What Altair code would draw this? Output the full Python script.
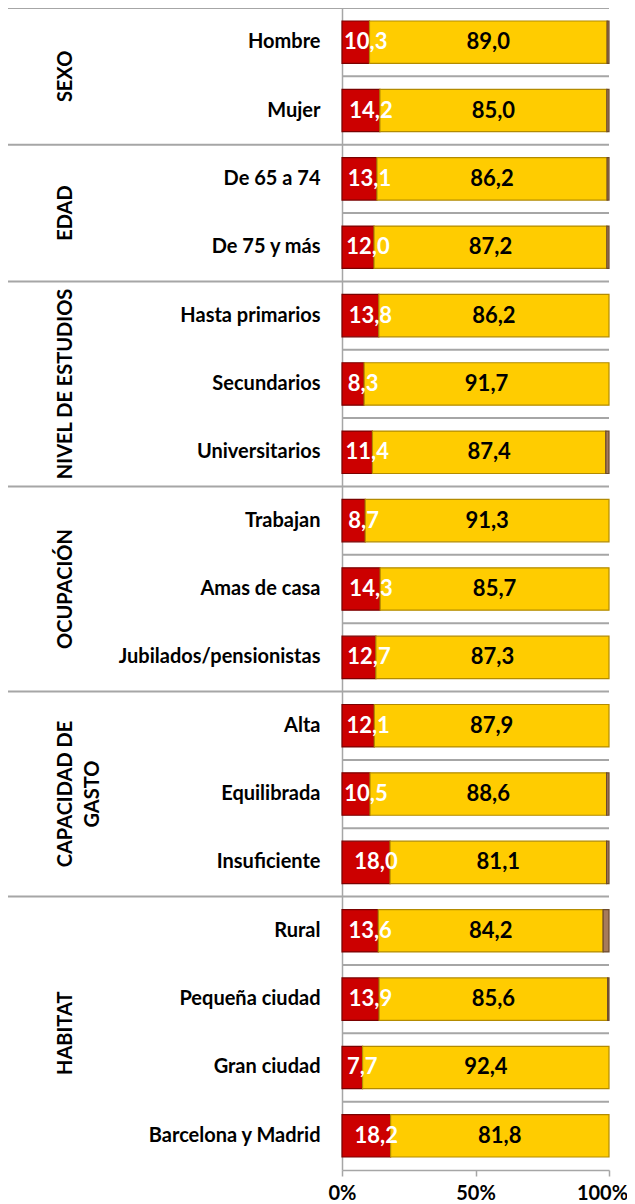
import altair as alt
import pandas as pd

FONT = "Lato"

groups = ["SEXO", "EDAD", "NIVEL DE ESTUDIOS", "OCUPACIÓN", "CAPACIDAD DE\nGASTO", "HABITAT"]
group_sizes = [2, 2, 3, 3, 3, 4]
categories = ["Hombre", "Mujer", "De 65 a 74", "De 75 y más", "Hasta primarios",
              "Secundarios", "Universitarios", "Trabajan", "Amas de casa",
              "Jubilados/pensionistas", "Alta", "Equilibrada", "Insuficiente",
              "Rural", "Pequeña ciudad", "Gran ciudad", "Barcelona y Madrid"]
red_vals = [10.3, 14.2, 13.1, 12.0, 13.8, 8.3, 11.4, 8.7, 14.3, 12.7, 12.1, 10.5, 18.0, 13.6, 13.9, 7.7, 18.2]
yellow_vals = [89.0, 85.0, 86.2, 87.2, 86.2, 91.7, 87.4, 91.3, 85.7, 87.3, 87.9, 88.6, 81.1, 84.2, 85.6, 92.4, 81.8]
brown_vals = [0.7, 0.8, 0.7, 0.8, 0.0, 0.0, 1.2, 0.0, 0.0, 0.0, 0.0, 0.9, 0.9, 2.2, 0.5, 0.0, 0.0]
x_ticks = [0, 50, 100]

series_names = ["red", "yellow", "brown"]
fill_colors = ["#CC0000", "#FFCC00", "#A67B5B"]
edge_colors = ["#7A0000", "#B38B00", "#6B4A2E"]

W = 267
H = 1162
GRAY = "#A6A6A6"

# long table of stacked segments
rows = []
for i, c in enumerate(categories):
    start = 0.0
    for s, vals in zip(series_names, [red_vals, yellow_vals, brown_vals]):
        v = vals[i]
        rows.append(dict(cat=c, series=s, value=v, start=start, end=start + v))
        start += v
seg = pd.DataFrame(rows)

# group positions (row units)
gstarts = []
acc = 0
for n in group_sizes:
    gstarts.append(acc)
    acc += n
group_lines = pd.DataFrame({"pos": gstarts})
inner_lines = pd.DataFrame({"pos": [p for p in range(1, len(categories)) if p not in gstarts]})
group_text = pd.DataFrame({"group": groups,
                           "mid": [s + n / 2 for s, n in zip(gstarts, group_sizes)]})

xsc = alt.Scale(domain=[0, 100], clamp=True, nice=False, zero=True)
x_axis = alt.Axis(values=x_ticks, labelExpr="datum.value + '%'", grid=False, title=None,
                  labelFont=FONT, labelFontSize=20, labelFontWeight="bold", labelColor="black",
                  tickSize=6, tickColor=GRAY, tickWidth=1.5, domainColor=GRAY, domainWidth=1.5,
                  labelPadding=7, labelFlush=False,
                  labelOffset={"condition": {"test": "datum.value == 100", "value": -7}, "value": 0})

y_band = alt.Y("cat:N", sort=categories,
               scale=alt.Scale(paddingInner=0.38, paddingOuter=0.19),
               axis=alt.Axis(title=None, labelFont=FONT, labelFontSize=20, labelFontWeight="bold",
                             labelColor="black", labelPadding=22, ticks=False,
                             domainColor=GRAY, domainWidth=1.5, labelLimit=400))

base = alt.Chart(seg)

bars = base.transform_filter("datum.value > 0").mark_bar(strokeWidth=1.2).encode(
    x=alt.X("start:Q", scale=xsc, axis=x_axis),
    x2="end:Q",
    y=y_band,
    color=alt.Color("series:N", scale=alt.Scale(domain=series_names, range=fill_colors), legend=None),
    stroke=alt.Stroke("series:N", scale=alt.Scale(domain=series_names, range=edge_colors), legend=None),
)

label_calc = dict(mid="(datum.start + datum.end) / 2",
                  lab="replace(format(datum.value, '.1f'), '.', ',')")

red_text = base.transform_filter("datum.series == 'red'").transform_calculate(**label_calc).mark_text(
    font=FONT, fontSize=22, fontWeight="bold", color="white", dx=10, baseline="middle"
).encode(x=alt.X("mid:Q", scale=xsc), y=y_band, text="lab:N")

yellow_text = base.transform_filter("datum.series == 'yellow'").transform_calculate(**label_calc).mark_text(
    font=FONT, fontSize=22, fontWeight="bold", color="black", baseline="middle"
).encode(x=alt.X("mid:Q", scale=xsc), y=y_band, text="lab:N")

ysc_q = alt.Scale(domain=[0, len(categories)], reverse=True, nice=False, zero=False)

rule_group = alt.Chart(group_lines).mark_rule(color=GRAY, strokeWidth=2).encode(
    y=alt.Y("pos:Q", scale=ysc_q, axis=None), x=alt.value(-335), x2=alt.value(W))
rule_inner = alt.Chart(inner_lines).mark_rule(color=GRAY, strokeWidth=2).encode(
    y=alt.Y("pos:Q", scale=ysc_q, axis=None), x=alt.value(0), x2=alt.value(W))
gtext = alt.Chart(group_text).mark_text(
    font=FONT, fontSize=20, fontWeight="bold", color="black", angle=270,
    align="center", baseline="middle", lineBreak="\n", lineHeight=27
).encode(y=alt.Y("mid:Q", scale=ysc_q, axis=None), x=alt.value(-276), text="group:N")

chart = alt.layer(
    alt.layer(rule_group, rule_inner, gtext),
    alt.layer(bars, red_text, yellow_text),
).resolve_scale(y="independent").properties(
    width=W, height=H,
    autosize=alt.AutoSizeParams(type="none"),
    padding={"left": 334, "top": 0, "right": 18, "bottom": 34},
).configure_view(stroke=None)

chart.save("out.html", embed_options={"renderer": "svg", "actions": False})
